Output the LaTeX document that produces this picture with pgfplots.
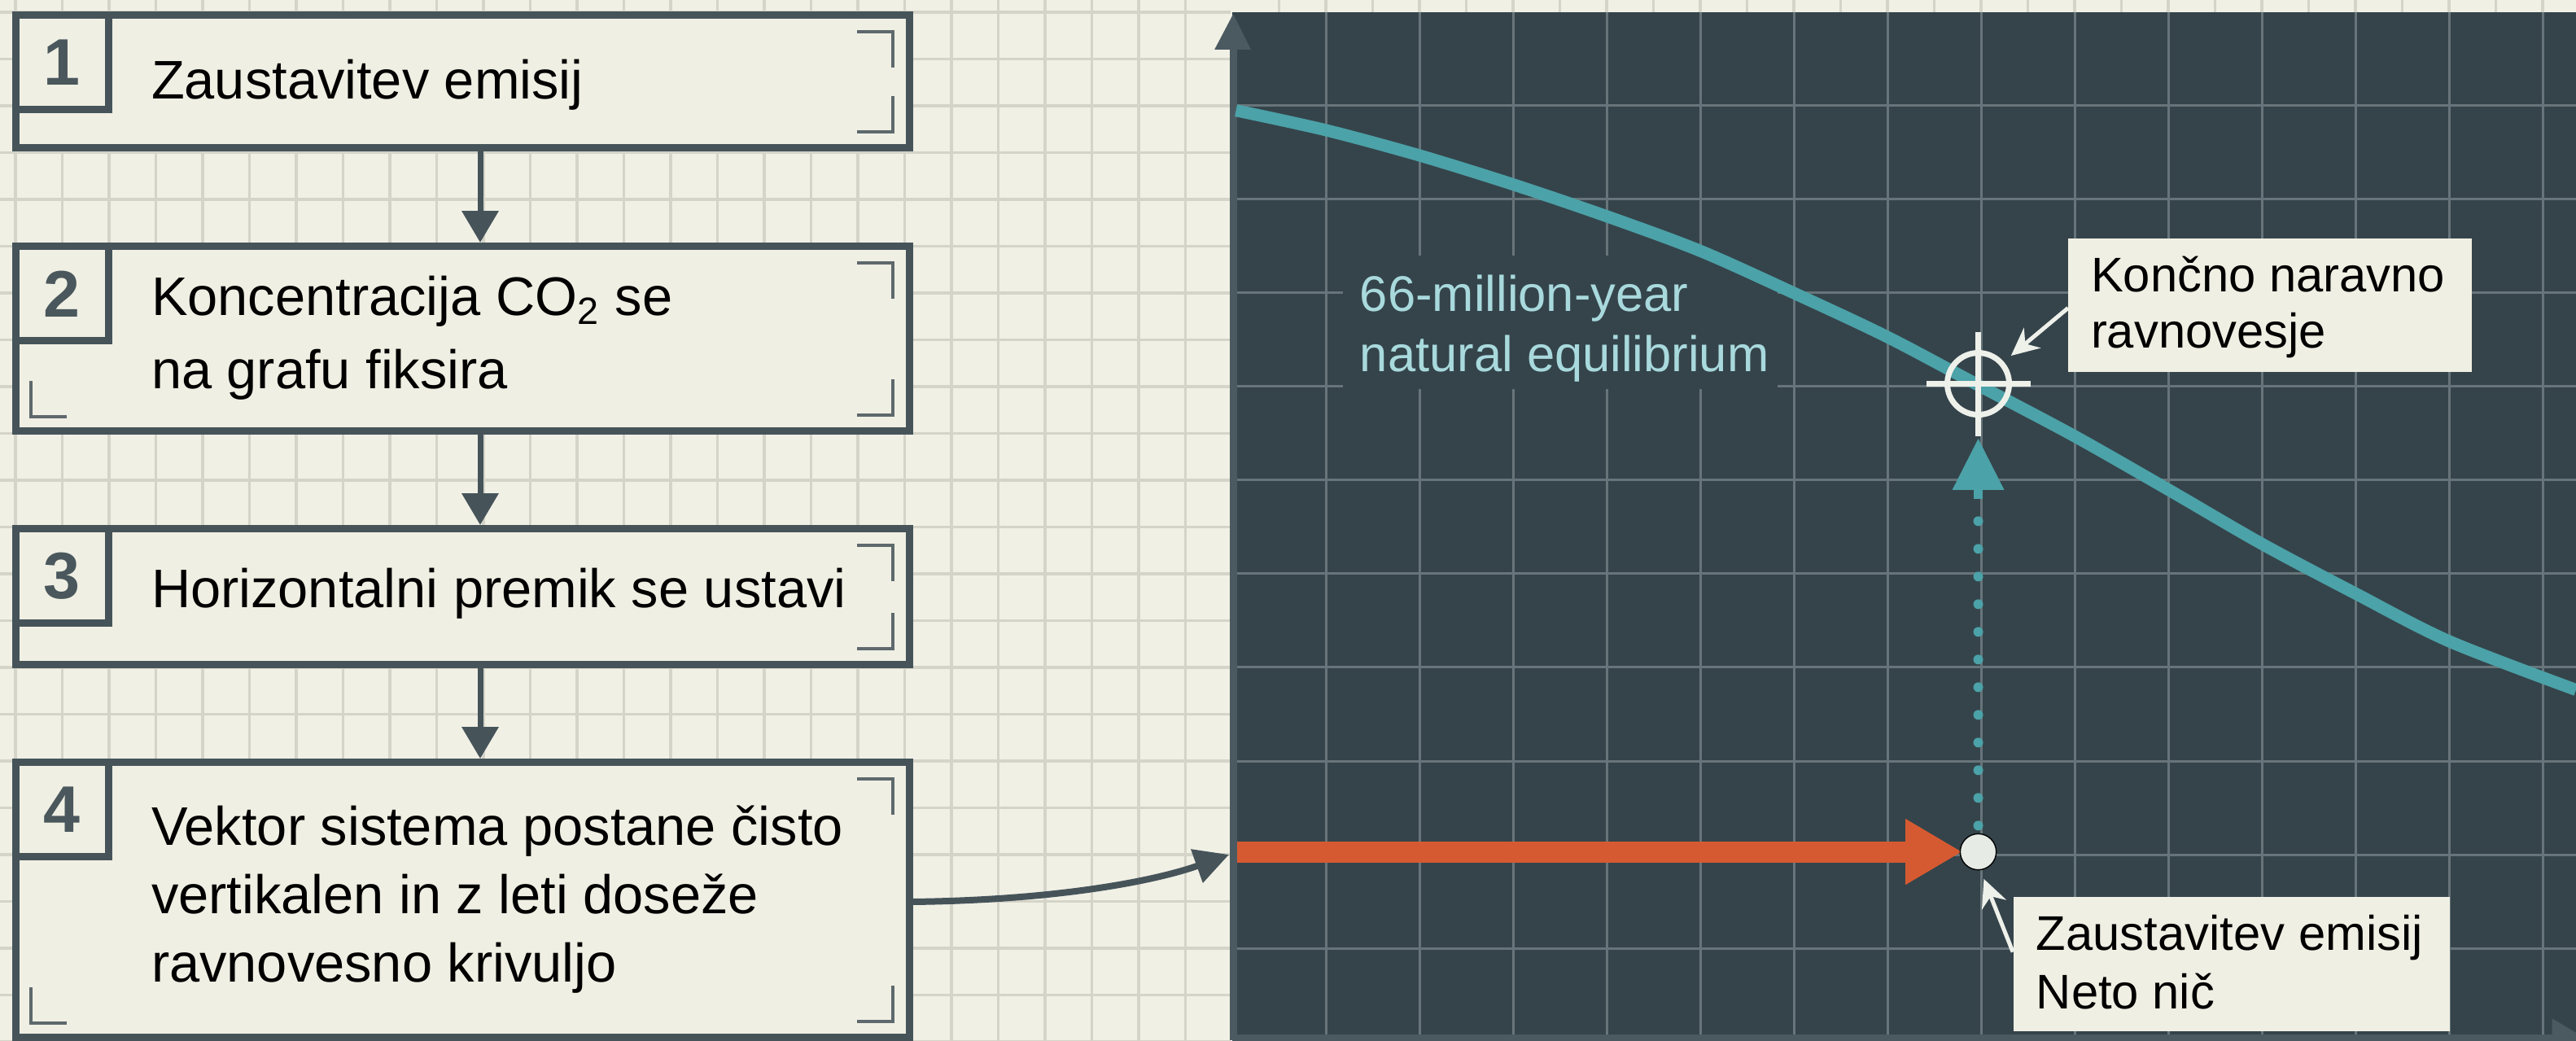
\documentclass[border=0pt]{standalone}
\usepackage{fontspec}
\setmainfont{Liberation Sans}
\usepackage{pgfplots}
\pgfplotsset{compat=1.18}
\usetikzlibrary{arrows.meta}
\definecolor{bgc}{HTML}{F1F0E5}
\definecolor{gridc}{HTML}{D5D4C9}
\definecolor{boxfill}{HTML}{EFEFE3}
\definecolor{slate}{HTML}{46545A}
\definecolor{panel}{HTML}{35444B}
\definecolor{pgrid}{HTML}{67757A}
\definecolor{teal1}{HTML}{4BA2A8}
\definecolor{tealtxt}{HTML}{A8D9DD}
\definecolor{orange1}{HTML}{D65A31}
\definecolor{dotc}{HTML}{E6EBE5}
\definecolor{wht}{HTML}{EEF0EA}
\definecolor{numc}{HTML}{4A575C}
\definecolor{brk}{HTML}{5E696D}
\definecolor{axc}{HTML}{4B5A61}
\newcommand{\bt}{\fontsize{19pt}{23pt}\selectfont}
\newcommand{\lt}{\fontsize{17pt}{20pt}\selectfont}
\newcommand{\flowbox}[3]{%
  \filldraw[fill=boxfill, draw=slate, line width=0.09cm] (19.5,#1+4.5) rectangle (1117.5,#2-4.5);
  \draw[slate, line width=0.09cm] (19.5,#1+4.5) rectangle (133,#1+120);
  \node[font=\fontsize{23pt}{23pt}\selectfont\bfseries, text=numc] at (76,#1+63) {#3};
  \draw[brk, line width=0.04cm] (1053,#1+25) -- (1097,#1+25) -- (1097,#1+69);
  \draw[brk, line width=0.04cm] (1053,#2-24) -- (1097,#2-24) -- (1097,#2-68);
}
\newcommand{\blbracket}[1]{%
  \draw[brk, line width=0.04cm] (82,#1-22) -- (38,#1-22) -- (38,#1-66);
}
\tikzset{txt/.style={anchor=base west, inner sep=0pt, outer sep=0pt}}
\begin{document}
\begin{tikzpicture}
% ---------- canvas in pixel units (y downwards) ----------
\begin{axis}[at={(0,0)}, anchor=south west, scale only axis,
  width=31.65cm, height=12.78cm, xmin=0, xmax=3165, ymin=0, ymax=1278,
  y dir=reverse, hide axis, clip=false]
\fill[bgc] (0,0) rectangle (3165,1278);
\pgfplotsinvokeforeach{-26,...,-1}{\draw[gridc, line width=0.035cm] ({1514+57.5*(#1)},0) -- ({1514+57.5*(#1)},1278);}
\pgfplotsinvokeforeach{1,...,28}{\draw[gridc, line width=0.035cm] ({1514+57.5*(#1)},0) -- ({1514+57.5*(#1)},16);}
\pgfplotsinvokeforeach{0,...,22}{\draw[gridc, line width=0.035cm] (0,{15+57.5*(#1)}) -- (1512,{15+57.5*(#1)});}
% flow arrows
\draw[slate, line width=0.07cm, -{Triangle[length=0.39cm,width=0.44cm]}] (590,186) -- (590,298);
\draw[slate, line width=0.07cm, -{Triangle[length=0.39cm,width=0.44cm]}] (590,534) -- (590,645);
\draw[slate, line width=0.07cm, -{Triangle[length=0.39cm,width=0.44cm]}] (590,821) -- (590,932);
% boxes
\flowbox{14}{186}{1}
\flowbox{298}{534}{2}
\flowbox{645}{821}{3}
\flowbox{932}{1279}{4}
\blbracket{534}
\blbracket{1279}
\node[txt, font=\bt] at (186,121) {Zaustavitev emisij};
\node[txt, font=\bt] at (186,387) {Koncentracija CO\textsubscript{2} se};
\node[txt, font=\bt] at (186,477) {na grafu fiksira};
\node[txt, font=\bt] at (186,746) {Horizontalni premik se ustavi};
\node[txt, font=\bt] at (186,1038) {Vektor sistema postane čisto};
\node[txt, font=\bt] at (186,1122) {vertikalen in z leti doseže};
\node[txt, font=\bt] at (186,1206) {ravnovesno krivuljo};
\draw[slate, line width=0.08cm, -{Triangle[length=0.42cm,width=0.42cm]}] (1120,1108) .. controls (1300,1106) and (1420,1082) .. (1510,1050);
\end{axis}
% ---------- dark panel chart ----------
\begin{axis}[at={(15.14cm,0cm)}, anchor=south west, scale only axis,
  width=16.51cm, height=12.63cm, xmin=0, xmax=14.3565, ymin=0.0174, ymax=11,
  xtick=\empty, ytick=\empty, axis line style={draw=none},
  axis background/.style={fill=panel}, clip=false]
\pgfplotsinvokeforeach{1,...,14}{\draw[pgrid, line width=0.03cm] (axis cs:#1,0.0174) -- (axis cs:#1,11);}
\pgfplotsinvokeforeach{1,...,10}{\draw[pgrid, line width=0.03cm] (axis cs:0,#1) -- (axis cs:14.3565,#1);}
\fill[panel] (axis cs:1.18,6.97) rectangle (axis cs:5.83,8.40);
\node[txt, text=tealtxt, font=\fontsize{17.5pt}{21pt}\selectfont] at (axis cs:1.365,7.80) {66-million-year};
\node[txt, text=tealtxt, font=\fontsize{17.5pt}{21pt}\selectfont] at (axis cs:1.365,7.157) {natural equilibrium};
% axes
\draw[axc, line width=0.09cm] (axis cs:0.01,0.0174) -- (axis cs:0.01,10.6);
\fill[axc] (axis cs:0.01,10.98) -- (axis cs:-0.19,10.6) -- (axis cs:0.2,10.6) -- cycle;
\draw[axc, line width=0.08cm] (axis cs:0,0.04) -- (axis cs:14.1,0.04);
\fill[axc] (axis cs:14.1,0.25) -- (axis cs:14.45,0.04) -- (axis cs:14.1,-0.17) -- cycle;
% equilibrium curve
\addplot[teal1, line width=0.15cm, smooth, mark=none] coordinates {
 (0.04,9.95) (1,9.74) (2,9.47) (3,9.16) (4,8.82) (5,8.45) (6,8.00) (7,7.53)
 (8,7.00) (9,6.47) (10,5.90) (11,5.32) (12,4.79) (13,4.28) (14.3565,3.76)};
% dotted vertical path
\addplot[teal1, line width=0.12cm, line cap=round, dash pattern=on 0pt off 0.34cm, mark=none]
 coordinates {(7.97,2.31) (7.97,5.59)};
\fill[teal1] (axis cs:7.97,6.443) -- (axis cs:7.692,5.896) -- (axis cs:8.248,5.896) -- cycle;
\fill[teal1] (axis cs:7.92,5.90) rectangle (axis cs:8.02,5.80);
% orange emission arrow
\addplot[orange1, line width=0.26cm, mark=none, -{Triangle[length=0.7cm,width=0.76cm]}]
 coordinates {(0.05,2.03) (7.80,2.03)};
\addplot[only marks, mark=*, mark size=6.3pt, mark options={fill=dotc, draw=none}] coordinates {(7.97,2.03)};
% crosshair
\draw[wht, line width=0.07cm] (axis cs:7.97,7.03) circle[radius=0.38cm];
\draw[wht, line width=0.07cm] ([xshift=-0.64cm]axis cs:7.97,7.03) -- ([xshift=0.64cm]axis cs:7.97,7.03);
\draw[wht, line width=0.07cm] ([yshift=-0.64cm]axis cs:7.97,7.03) -- ([yshift=0.64cm]axis cs:7.97,7.03);
% labels
\fill[boxfill] (axis cs:8.93,7.157) rectangle (axis cs:13.243,8.583);
\node[txt, font=\lt] at (axis cs:9.174,8.017) {Končno naravno};
\node[txt, font=\lt] at (axis cs:9.174,7.417) {ravnovesje};
\draw[wht, line width=0.05cm, -{Stealth[length=0.34cm,width=0.32cm]}] (axis cs:8.93,7.84) -- (axis cs:8.32,7.33);
\fill[boxfill] (axis cs:8.348,0.113) rectangle (axis cs:13.009,1.548);
\node[txt, font=\lt] at (axis cs:8.591,0.974) {Zaustavitev emisij};
\node[txt, font=\lt] at (axis cs:8.591,0.348) {Neto nič};
\draw[wht, line width=0.05cm, -{Stealth[length=0.34cm,width=0.32cm]}] (axis cs:8.34,0.96) -- (axis cs:8.03,1.74);
\end{axis}
\pgfresetboundingbox
\useasboundingbox (0,0) rectangle (31.65cm,12.78cm);
\end{tikzpicture}
\end{document}
